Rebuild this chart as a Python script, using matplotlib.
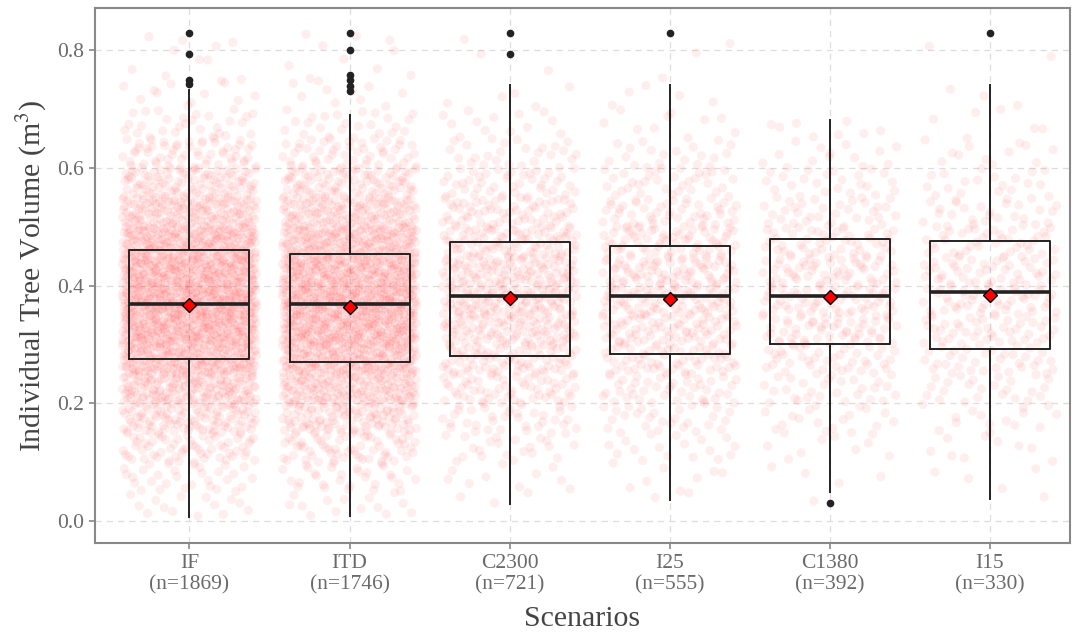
import numpy as np
import matplotlib
matplotlib.use("Agg")
import matplotlib.pyplot as plt

plt.rcParams['font.family'] = ['Liberation Serif', 'DejaVu Serif']
plt.rcParams['mathtext.fontset'] = 'stix'

# scenario names and sample sizes
scenarios = ["IF", "ITD", "C2300", "I25", "C1380", "I15"]
n_trees = [1869, 1746, 721, 555, 392, 330]

# box statistics (m3)
q1 = [0.275, 0.270, 0.280, 0.284, 0.301, 0.292]
medians = [0.369, 0.369, 0.383, 0.383, 0.383, 0.390]
q3 = [0.460, 0.454, 0.474, 0.467, 0.479, 0.476]
whisker_lo = [0.007, 0.009, 0.030, 0.036, 0.049, 0.037]
whisker_hi = [0.732, 0.690, 0.741, 0.741, 0.681, 0.741]
means = [0.367, 0.364, 0.379, 0.377, 0.381, 0.384]
outliers = [
    [0.829, 0.793, 0.749, 0.742],
    [0.829, 0.800, 0.757, 0.749, 0.739, 0.730],
    [0.829, 0.793],
    [0.829],
    [0.031],
    [0.829],
]

# estimated counts of individual trees per 0.05 m3 band (0.00-0.85)
band_width = 0.05
band_counts = [
    [14, 30, 60, 100, 150, 205, 250, 265, 245, 205, 145, 95, 55, 28, 12, 6, 4],
    [14, 30, 60, 100, 150, 195, 235, 245, 225, 185, 130, 85, 48, 24, 10, 6, 4],
    [3, 10, 22, 36, 55, 75, 92, 102, 97, 80, 60, 42, 26, 13, 5, 2, 1],
    [2, 8, 17, 28, 42, 58, 70, 77, 72, 62, 48, 33, 20, 10, 5, 2, 1],
    [1, 4, 10, 18, 28, 40, 52, 57, 54, 45, 34, 23, 14, 8, 3, 1, 0],
    [1, 4, 9, 15, 24, 34, 43, 47, 45, 38, 28, 19, 12, 6, 3, 1, 1],
]


def halton(k, base):
    # radical inverse, spreads the trees evenly inside a band
    f, r = 1.0, 0.0
    while k > 0:
        f /= base
        r += f * (k % base)
        k //= base
    return r


fig = plt.figure(figsize=(10.76, 6.34), dpi=100)
ax = fig.add_axes([0.0883, 0.1435, 0.9060, 0.8435])

positions = np.arange(1, len(scenarios) + 1)

# jittered tree cloud
for i, counts in enumerate(band_counts):
    gmin = min([whisker_lo[i]] + outliers[i])
    gmax = max([whisker_hi[i]] + outliers[i])
    xs, ys = [], []
    idx = 1 + 97 * i
    for b, c in enumerate(counts):
        lo = max(b * band_width, gmin)
        hi = min((b + 1) * band_width, gmax)
        if c == 0 or hi <= lo:
            continue
        for k in range(c):
            idx += 1
            fx = halton(idx, 2)
            fy = halton(idx, 3)
            ys.append(lo + fy * (hi - lo))
            xs.append(positions[i] + (fx - 0.5) * 0.84)
    ax.scatter(xs, ys, s=44, color='red', alpha=0.065, edgecolors='none', zorder=2)

stats = []
for i in range(len(scenarios)):
    stats.append(dict(med=medians[i], q1=q1[i], q3=q3[i], whislo=whisker_lo[i],
                      whishi=whisker_hi[i], fliers=outliers[i], mean=means[i]))

ax.bxp(stats, positions=positions, widths=0.75, showmeans=True, showcaps=False,
       patch_artist=False, manage_ticks=False,
       boxprops=dict(color='#222222', linewidth=1.4),
       whiskerprops=dict(color='#222222', linewidth=1.4),
       medianprops=dict(color='#222222', linewidth=2.6),
       flierprops=dict(marker='o', markerfacecolor='#222222', markeredgecolor='#222222',
                       markersize=4.5),
       meanprops=dict(marker='D', markerfacecolor='red', markeredgecolor='black',
                      markersize=7.5, markeredgewidth=1.0),
       zorder=3)

ax.set_xlim(0.41, 6.5)
ax.set_ylim(-0.037, 0.871)
ax.set_xticks(positions)
ax.set_xticklabels([f"{s}\n(n={n})" for s, n in zip(scenarios, n_trees)],
                   linespacing=1.15)
ax.set_yticks([0.0, 0.2, 0.4, 0.6, 0.8])
ax.set_yticklabels(["0.0", "0.2", "0.4", "0.6", "0.8"])

ax.grid(True, color='#dddddd', linestyle=(0, (5, 4)), linewidth=0.9, zorder=0)
ax.set_axisbelow(True)
for sp in ax.spines.values():
    sp.set_color('#888888')
    sp.set_linewidth(1.5)
ax.tick_params(colors='#888888', labelcolor='#6a6a6a', labelsize=15.5, length=4,
               width=1.2, pad=4)

ax.set_xlabel("Scenarios", fontsize=21.5, color='#444444', labelpad=8)
ax.set_ylabel("Individual Tree Volume (m$^3$)", fontsize=21.5, color='#444444', labelpad=6)

fig.savefig("out.png", dpi=100)
